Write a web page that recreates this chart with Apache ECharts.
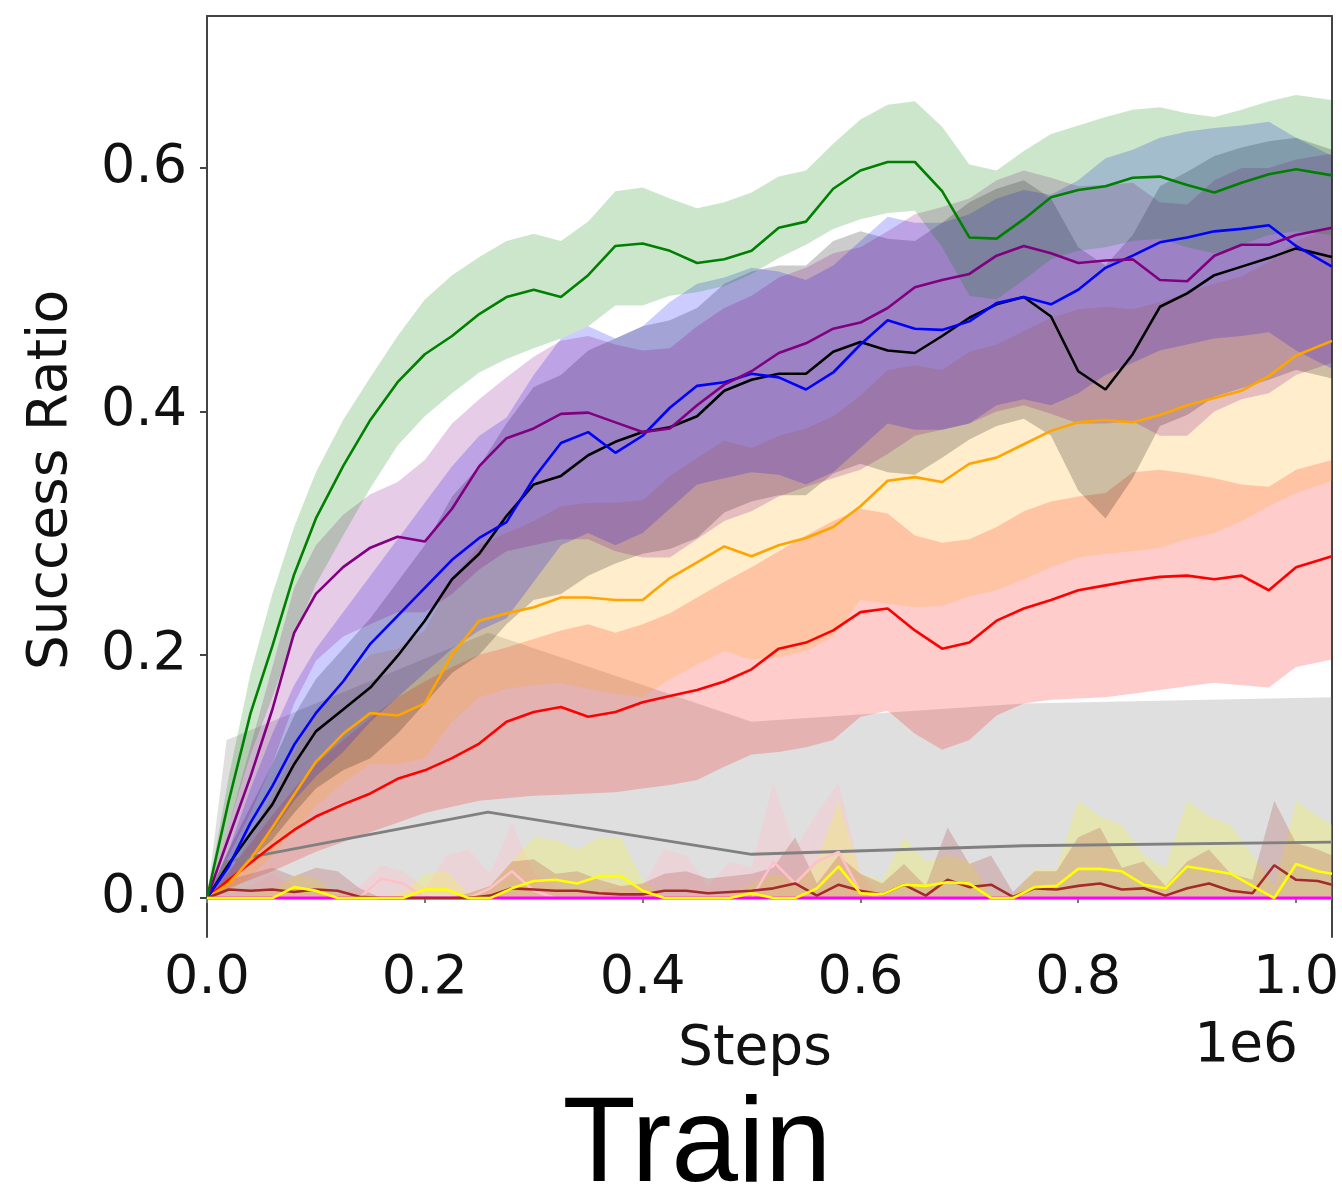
<!DOCTYPE html>
<html><head><meta charset="utf-8">
<script src="https://cdn.jsdelivr.net/npm/echarts@6/dist/echarts.min.js"></script>
<style>html,body{margin:0;padding:0;background:#fff}#c{width:1342px;height:1200px}</style>
</head><body><div id="c"></div>
<script>
// ---- data (x in units of 1e6 steps) ----
const X = [0, 0.02, 0.04, 0.06, 0.08, 0.10, 0.125, 0.15, 0.175, 0.20, 0.225, 0.25, 0.275, 0.30, 0.325, 0.35, 0.375, 0.40, 0.425, 0.45, 0.475, 0.50, 0.525, 0.55, 0.575, 0.60, 0.625, 0.65, 0.675, 0.70, 0.725, 0.75, 0.775, 0.80, 0.825, 0.85, 0.875, 0.90, 0.925, 0.95, 0.975, 1.00, 1.033];

const GREEN    = [0, 0.08, 0.152, 0.207, 0.266, 0.312, 0.355, 0.393, 0.424, 0.447, 0.462, 0.480, 0.494, 0.500, 0.494, 0.512, 0.536, 0.538, 0.532, 0.522, 0.525, 0.532, 0.551, 0.556, 0.583, 0.598, 0.605, 0.605, 0.581, 0.543, 0.542, 0.558, 0.576, 0.582, 0.585, 0.592, 0.593, 0.586, 0.580, 0.588, 0.595, 0.599, 0.594];
const GREEN_HI = [0, 0.10, 0.185, 0.25, 0.305, 0.35, 0.393, 0.428, 0.462, 0.492, 0.512, 0.527, 0.540, 0.546, 0.540, 0.556, 0.581, 0.584, 0.575, 0.567, 0.572, 0.580, 0.593, 0.598, 0.620, 0.640, 0.652, 0.655, 0.634, 0.603, 0.598, 0.614, 0.628, 0.635, 0.642, 0.648, 0.650, 0.645, 0.642, 0.648, 0.655, 0.660, 0.656];
const GREEN_LO = [0, 0.06, 0.118, 0.165, 0.215, 0.258, 0.298, 0.337, 0.372, 0.396, 0.415, 0.432, 0.443, 0.452, 0.460, 0.470, 0.487, 0.487, 0.495, 0.498, 0.503, 0.513, 0.526, 0.537, 0.550, 0.558, 0.563, 0.565, 0.535, 0.495, 0.492, 0.508, 0.525, 0.532, 0.535, 0.540, 0.542, 0.535, 0.530, 0.537, 0.545, 0.548, 0.545];

const PURPLE    = [0, 0.05, 0.100, 0.155, 0.218, 0.25, 0.272, 0.288, 0.297, 0.293, 0.32, 0.355, 0.378, 0.386, 0.398, 0.399, 0.391, 0.383, 0.386, 0.405, 0.422, 0.433, 0.448, 0.456, 0.468, 0.473, 0.485, 0.502, 0.508, 0.513, 0.528, 0.536, 0.530, 0.522, 0.524, 0.525, 0.508, 0.507, 0.528, 0.537, 0.537, 0.545, 0.551];
const PURPLE_HI = [0, 0.06, 0.125, 0.19, 0.255, 0.29, 0.315, 0.332, 0.342, 0.36, 0.39, 0.41, 0.428, 0.445, 0.458, 0.462, 0.455, 0.450, 0.452, 0.47, 0.485, 0.495, 0.51, 0.518, 0.53, 0.535, 0.548, 0.562, 0.568, 0.575, 0.59, 0.598, 0.592, 0.585, 0.586, 0.588, 0.572, 0.57, 0.59, 0.6, 0.6, 0.607, 0.612];
const PURPLE_LO = [0, 0.035, 0.07, 0.11, 0.16, 0.195, 0.215, 0.225, 0.235, 0.235, 0.25, 0.27, 0.285, 0.29, 0.295, 0.295, 0.285, 0.28, 0.28, 0.295, 0.31, 0.318, 0.33, 0.338, 0.345, 0.352, 0.365, 0.38, 0.385, 0.39, 0.4, 0.405, 0.398, 0.39, 0.39, 0.392, 0.38, 0.38, 0.4, 0.41, 0.415, 0.43, 0.44];

const BLUE    = [0, 0.026, 0.062, 0.092, 0.126, 0.152, 0.178, 0.209, 0.232, 0.255, 0.278, 0.296, 0.309, 0.345, 0.374, 0.383, 0.366, 0.38, 0.403, 0.421, 0.424, 0.431, 0.428, 0.418, 0.432, 0.455, 0.475, 0.468, 0.467, 0.474, 0.489, 0.494, 0.488, 0.500, 0.518, 0.528, 0.539, 0.543, 0.548, 0.550, 0.553, 0.536, 0.519];
const BLUE_HI = [0, 0.04, 0.09, 0.135, 0.175, 0.205, 0.235, 0.265, 0.295, 0.325, 0.355, 0.38, 0.395, 0.43, 0.46, 0.47, 0.46, 0.47, 0.49, 0.505, 0.51, 0.518, 0.515, 0.508, 0.52, 0.54, 0.56, 0.555, 0.555, 0.562, 0.575, 0.582, 0.578, 0.59, 0.608, 0.615, 0.625, 0.63, 0.633, 0.635, 0.638, 0.625, 0.61];
const BLUE_LO = [0, 0.012, 0.035, 0.055, 0.08, 0.1, 0.12, 0.145, 0.165, 0.185, 0.205, 0.22, 0.23, 0.26, 0.29, 0.3, 0.29, 0.3, 0.32, 0.34, 0.345, 0.35, 0.348, 0.34, 0.35, 0.37, 0.39, 0.385, 0.385, 0.39, 0.405, 0.41, 0.405, 0.415, 0.43, 0.44, 0.45, 0.455, 0.46, 0.462, 0.465, 0.45, 0.435];

const BLACK    = [0, 0.028, 0.053, 0.077, 0.110, 0.137, 0.155, 0.173, 0.199, 0.228, 0.262, 0.283, 0.314, 0.340, 0.347, 0.364, 0.375, 0.383, 0.387, 0.396, 0.417, 0.426, 0.431, 0.431, 0.449, 0.457, 0.450, 0.448, 0.462, 0.477, 0.488, 0.494, 0.478, 0.433, 0.418, 0.447, 0.486, 0.497, 0.512, 0.519, 0.526, 0.534, 0.527];
const BLACK_HI = [0, 0.04, 0.075, 0.11, 0.15, 0.18, 0.205, 0.23, 0.26, 0.29, 0.33, 0.355, 0.39, 0.42, 0.43, 0.45, 0.46, 0.47, 0.475, 0.485, 0.505, 0.515, 0.52, 0.52, 0.54, 0.548, 0.542, 0.54, 0.555, 0.572, 0.583, 0.59, 0.575, 0.535, 0.52, 0.545, 0.585, 0.597, 0.61, 0.617, 0.622, 0.625, 0.615];
const BLACK_LO = [0, 0.015, 0.032, 0.048, 0.07, 0.09, 0.105, 0.115, 0.135, 0.16, 0.185, 0.2, 0.225, 0.245, 0.25, 0.265, 0.275, 0.283, 0.287, 0.296, 0.317, 0.326, 0.331, 0.331, 0.349, 0.357, 0.35, 0.348, 0.362, 0.377, 0.388, 0.394, 0.38, 0.335, 0.312, 0.345, 0.388, 0.397, 0.412, 0.419, 0.426, 0.434, 0.427];

const ORANGE    = [0, 0.012, 0.032, 0.058, 0.085, 0.112, 0.135, 0.152, 0.150, 0.160, 0.200, 0.228, 0.234, 0.239, 0.247, 0.247, 0.245, 0.245, 0.263, 0.276, 0.289, 0.281, 0.290, 0.296, 0.305, 0.322, 0.343, 0.346, 0.342, 0.357, 0.362, 0.373, 0.384, 0.391, 0.393, 0.391, 0.397, 0.405, 0.411, 0.417, 0.429, 0.446, 0.458];
const ORANGE_HI = [0, 0.02, 0.05, 0.085, 0.12, 0.155, 0.18, 0.2, 0.205, 0.22, 0.262, 0.29, 0.3, 0.31, 0.322, 0.325, 0.325, 0.327, 0.347, 0.362, 0.376, 0.37, 0.38, 0.386, 0.396, 0.413, 0.434, 0.438, 0.434, 0.449, 0.455, 0.466, 0.477, 0.484, 0.486, 0.484, 0.49, 0.498, 0.505, 0.511, 0.523, 0.54, 0.552];
const ORANGE_LO = [0, 0.005, 0.018, 0.035, 0.055, 0.075, 0.095, 0.11, 0.11, 0.115, 0.145, 0.165, 0.172, 0.175, 0.177, 0.172, 0.168, 0.165, 0.18, 0.192, 0.203, 0.196, 0.198, 0.203, 0.215, 0.245, 0.242, 0.239, 0.24, 0.248, 0.253, 0.262, 0.272, 0.28, 0.283, 0.285, 0.288, 0.295, 0.3, 0.31, 0.322, 0.333, 0.343];

const RED    = [0, 0.015, 0.029, 0.043, 0.056, 0.067, 0.077, 0.086, 0.098, 0.105, 0.115, 0.127, 0.145, 0.153, 0.157, 0.149, 0.153, 0.161, 0.166, 0.171, 0.178, 0.188, 0.205, 0.210, 0.220, 0.235, 0.238, 0.220, 0.205, 0.210, 0.228, 0.238, 0.245, 0.253, 0.257, 0.261, 0.264, 0.265, 0.262, 0.265, 0.253, 0.272, 0.281];
const RED_HI = [0, 0.022, 0.045, 0.068, 0.09, 0.11, 0.13, 0.148, 0.165, 0.178, 0.19, 0.2, 0.206, 0.213, 0.22, 0.225, 0.218, 0.225, 0.234, 0.247, 0.26, 0.272, 0.285, 0.298, 0.31, 0.32, 0.316, 0.298, 0.292, 0.295, 0.305, 0.318, 0.326, 0.33, 0.333, 0.35, 0.352, 0.349, 0.345, 0.34, 0.338, 0.352, 0.36];
const RED_LO = [0, 0.008, 0.015, 0.022, 0.03, 0.038, 0.046, 0.054, 0.062, 0.07, 0.075, 0.08, 0.082, 0.084, 0.085, 0.086, 0.087, 0.09, 0.093, 0.097, 0.108, 0.118, 0.12, 0.124, 0.13, 0.149, 0.154, 0.135, 0.122, 0.13, 0.15, 0.16, 0.163, 0.164, 0.165, 0.168, 0.171, 0.174, 0.177, 0.175, 0.173, 0.19, 0.196];

const X_GRAY  = [0, 0.018, 0.258, 0.5, 0.75, 1.033];
const GRAY    = [0, 0.03, 0.0707, 0.036, 0.043, 0.046];
const GRAY_HI = [0, 0.13, 0.218, 0.145, 0.16, 0.165];
const GRAY_LO = [0, 0, 0, 0, 0, 0];

const X_LOW = [0, 0.02, 0.04, 0.06, 0.08, 0.10, 0.12, 0.14, 0.16, 0.18, 0.20, 0.22, 0.24, 0.26, 0.28, 0.30, 0.32, 0.34, 0.36, 0.38, 0.40, 0.42, 0.44, 0.46, 0.48, 0.50, 0.52, 0.54, 0.56, 0.58, 0.60, 0.62, 0.64, 0.66, 0.68, 0.70, 0.72, 0.74, 0.76, 0.78, 0.80, 0.82, 0.84, 0.86, 0.88, 0.90, 0.92, 0.94, 0.96, 0.98, 1.00, 1.02, 1.033];
const LOW_ZERO = [0,0,0,0,0,0,0,0,0,0, 0,0,0,0,0,0,0,0,0,0, 0,0,0,0,0,0,0,0,0,0, 0,0,0,0,0,0,0,0,0,0, 0,0,0,0,0,0,0,0,0,0, 0,0,0];
const YELLOW    = [0, 0, 0, 0, 0.009, 0.006, 0, 0, 0, 0, 0.007, 0.007, 0, 0, 0.008, 0.014, 0.015, 0.012, 0.018, 0.018, 0.006, 0, 0, 0, 0, 0.004, 0, 0, 0.008, 0.026, 0.004, 0.003, 0.011, 0.01, 0.013, 0.012, 0, 0, 0.009, 0.01, 0.024, 0.024, 0.022, 0.011, 0.008, 0.026, 0.023, 0.02, 0.01, 0, 0.028, 0.022, 0.02];
const YELLOW_HI = [0, 0, 0.004, 0.006, 0.019, 0.016, 0.004, 0, 0, 0.005, 0.02, 0.022, 0.004, 0.01, 0.03, 0.05, 0.048, 0.04, 0.05, 0.05, 0.015, 0, 0, 0, 0.003, 0.012, 0.02, 0.015, 0.03, 0.08, 0.02, 0.015, 0.05, 0.03, 0.035, 0.03, 0.004, 0.002, 0.024, 0.024, 0.08, 0.067, 0.06, 0.035, 0.025, 0.08, 0.067, 0.06, 0.035, 0.01, 0.08, 0.067, 0.06];
const BROWN    = [0, 0.007, 0.006, 0.007, 0.005, 0.007, 0.006, 0.001, 0, 0, 0, 0, 0, 0.002, 0.008, 0.007, 0.006, 0.006, 0.004, 0.003, 0.003, 0.006, 0.006, 0.004, 0.005, 0.006, 0.008, 0.012, 0.002, 0.011, 0.006, 0.003, 0.011, 0.002, 0.015, 0.009, 0.011, 0.001, 0.008, 0.007, 0.01, 0.012, 0.007, 0.008, 0.002, 0.008, 0.012, 0.006, 0.004, 0.027, 0.015, 0.014, 0.011];
const BROWN_HI = [0, 0.015, 0.02, 0.025, 0.018, 0.025, 0.022, 0.008, 0, 0, 0.002, 0, 0.004, 0.01, 0.03, 0.032, 0.02, 0.022, 0.015, 0.01, 0.012, 0.02, 0.022, 0.016, 0.018, 0.02, 0.025, 0.05, 0.012, 0.035, 0.02, 0.012, 0.028, 0.01, 0.058, 0.028, 0.035, 0.005, 0.022, 0.022, 0.05, 0.058, 0.025, 0.03, 0.01, 0.03, 0.04, 0.02, 0.015, 0.08, 0.045, 0.04, 0.035];
const PINK    = [0, 0, 0, 0, 0, 0, 0, 0, 0.016, 0.012, 0, 0, 0, 0.008, 0.022, 0.006, 0, 0, 0, 0, 0, 0, 0, 0, 0, 0, 0.03, 0.012, 0.03, 0.038, 0.005, 0, 0, 0, 0, 0, 0, 0, 0, 0, 0, 0, 0, 0, 0, 0, 0, 0, 0, 0, 0, 0, 0];
const PINK_HI = [0, 0.005, 0.01, 0.02, 0.01, 0.005, 0.003, 0.01, 0.027, 0.022, 0.008, 0.035, 0.04, 0.02, 0.062, 0.02, 0.01, 0.005, 0.005, 0.01, 0.01, 0.04, 0.035, 0.01, 0.03, 0.025, 0.095, 0.04, 0.07, 0.095, 0.02, 0, 0, 0, 0, 0, 0, 0, 0, 0, 0, 0, 0, 0, 0, 0, 0, 0, 0, 0, 0, 0, 0];
const X_MAGENTA = [0, 1.033];
const MAGENTA   = [0, 0];

const X_TICKS = [0, 0.2, 0.4, 0.6, 0.8, 1.0];
const Y_TICKS = [0, 0.2, 0.4, 0.6];

// ---- chart ----
const chart = echarts.init(document.getElementById('c'), null, {renderer: 'canvas'});

function band(xs, hi, lo, fill) {
  return {
    type: 'custom', xAxisIndex: 0, yAxisIndex: 0, clip: true, silent: true, animation: false, z: 2,
    data: [[xs[0], lo[0]]],
    renderItem: function (params, api) {
      const pts = [];
      for (let i = 0; i < xs.length; i++) pts.push(api.coord([xs[i], hi[i]]));
      for (let i = xs.length - 1; i >= 0; i--) pts.push(api.coord([xs[i], lo[i]]));
      return {type: 'polygon', shape: {points: pts}, style: {fill: fill, stroke: null}};
    }
  };
}
function line(xs, ys, color, width, z) {
  return {
    type: 'line', xAxisIndex: 0, yAxisIndex: 0, silent: true, animation: false,
    showSymbol: false, symbol: 'none', z: z || 3,
    data: xs.map((x, i) => [x, ys[i]]),
    lineStyle: {color: color, width: width || 2.6}
  };
}

const FONT = 'DejaVu Sans';
const option = {
  backgroundColor: '#ffffff',
  animation: false,
  grid: {left: 207, right: 7, top: 16, bottom: 263, containLabel: false},
  xAxis: [{
    type: 'value', min: 0, max: 1.033, position: 'bottom',
    axisLine: {show: false},
    axisTick: {show: true, length: 5, lineStyle: {color: '#777', width: 2}, customValues: X_TICKS},
    axisLabel: {customValues: X_TICKS, formatter: v => v.toFixed(1), fontSize: 54, fontFamily: FONT, color: '#111', margin: 15},
    splitLine: {show: false}
  }, {
    type: 'value', min: 0, max: 1.033, position: 'top',
    axisLine: {show: true, onZero: false, lineStyle: {color: '#444', width: 2}},
    axisTick: {show: false}, axisLabel: {show: false}, splitLine: {show: false}
  }],
  yAxis: [{
    type: 'value', min: -0.032, max: 0.725, position: 'left',
    axisLine: {show: true, onZero: false, lineStyle: {color: '#444', width: 2}},
    axisTick: {show: true, length: 7, lineStyle: {color: '#444', width: 2}, customValues: Y_TICKS},
    axisLabel: {customValues: Y_TICKS, formatter: v => v.toFixed(1), fontSize: 54, fontFamily: FONT, color: '#111', margin: 20},
    splitLine: {show: false}
  }, {
    type: 'value', min: -0.032, max: 0.725, position: 'right',
    axisLine: {show: true, onZero: false, lineStyle: {color: '#444', width: 2}},
    axisTick: {show: false}, axisLabel: {show: false}, splitLine: {show: false}
  }],
  graphic: [
    {type: 'text', x: 52, y: 480, rotation: Math.PI / 2, silent: true,
     style: {text: 'Success Ratio', font: '55px "DejaVu Sans"', fill: '#111', textAlign: 'center', textVerticalAlign: 'middle'}},
    {type: 'text', x: 755, y: 1050, silent: true,
     style: {text: 'Steps', font: '55px "DejaVu Sans"', fill: '#111', textAlign: 'center', textVerticalAlign: 'middle'}},
    {type: 'text', x: 1298, y: 1047, silent: true,
     style: {text: '1e6', font: '55px "DejaVu Sans"', fill: '#111', textAlign: 'right', textVerticalAlign: 'middle'}},
    {type: 'text', x: 697, y: 1148, silent: true,
     style: {text: 'Train', font: '120px "Liberation Sans"', fill: '#000', textAlign: 'center', textVerticalAlign: 'middle'}}
  ],
  series: [
    band(X_GRAY, GRAY_HI, GRAY_LO, 'rgba(128,128,128,0.25)'),
    band(X, RED_HI, RED_LO, 'rgba(255,0,0,0.2)'),
    band(X, ORANGE_HI, ORANGE_LO, 'rgba(255,165,0,0.2)'),
    band(X, BLACK_HI, BLACK_LO, 'rgba(0,0,0,0.2)'),
    band(X, BLUE_HI, BLUE_LO, 'rgba(0,0,255,0.2)'),
    band(X, PURPLE_HI, PURPLE_LO, 'rgba(128,0,128,0.2)'),
    band(X, GREEN_HI, GREEN_LO, 'rgba(0,128,0,0.2)'),
    band(X_LOW, PINK_HI, LOW_ZERO, 'rgba(255,192,203,0.35)'),
    band(X_LOW, YELLOW_HI, LOW_ZERO, 'rgba(255,255,0,0.2)'),
    band(X_LOW, BROWN_HI, LOW_ZERO, 'rgba(165,42,42,0.2)'),
    line(X_GRAY, GRAY, '#808080', 2.8),
    line(X, RED, '#ff0000'),
    line(X, ORANGE, '#ffa500'),
    line(X, BLACK, '#000000'),
    line(X, BLUE, '#0000ff'),
    line(X, PURPLE, '#800080'),
    line(X, GREEN, '#008000'),
    line(X_LOW, PINK, '#ffc0cb'),
    line(X_MAGENTA, MAGENTA, '#ff00ff', 3),
    line(X_LOW, BROWN, '#a52a2a'),
    line(X_LOW, YELLOW, '#ffff00')
  ]
};
chart.setOption(option);
</script>
</body></html>
